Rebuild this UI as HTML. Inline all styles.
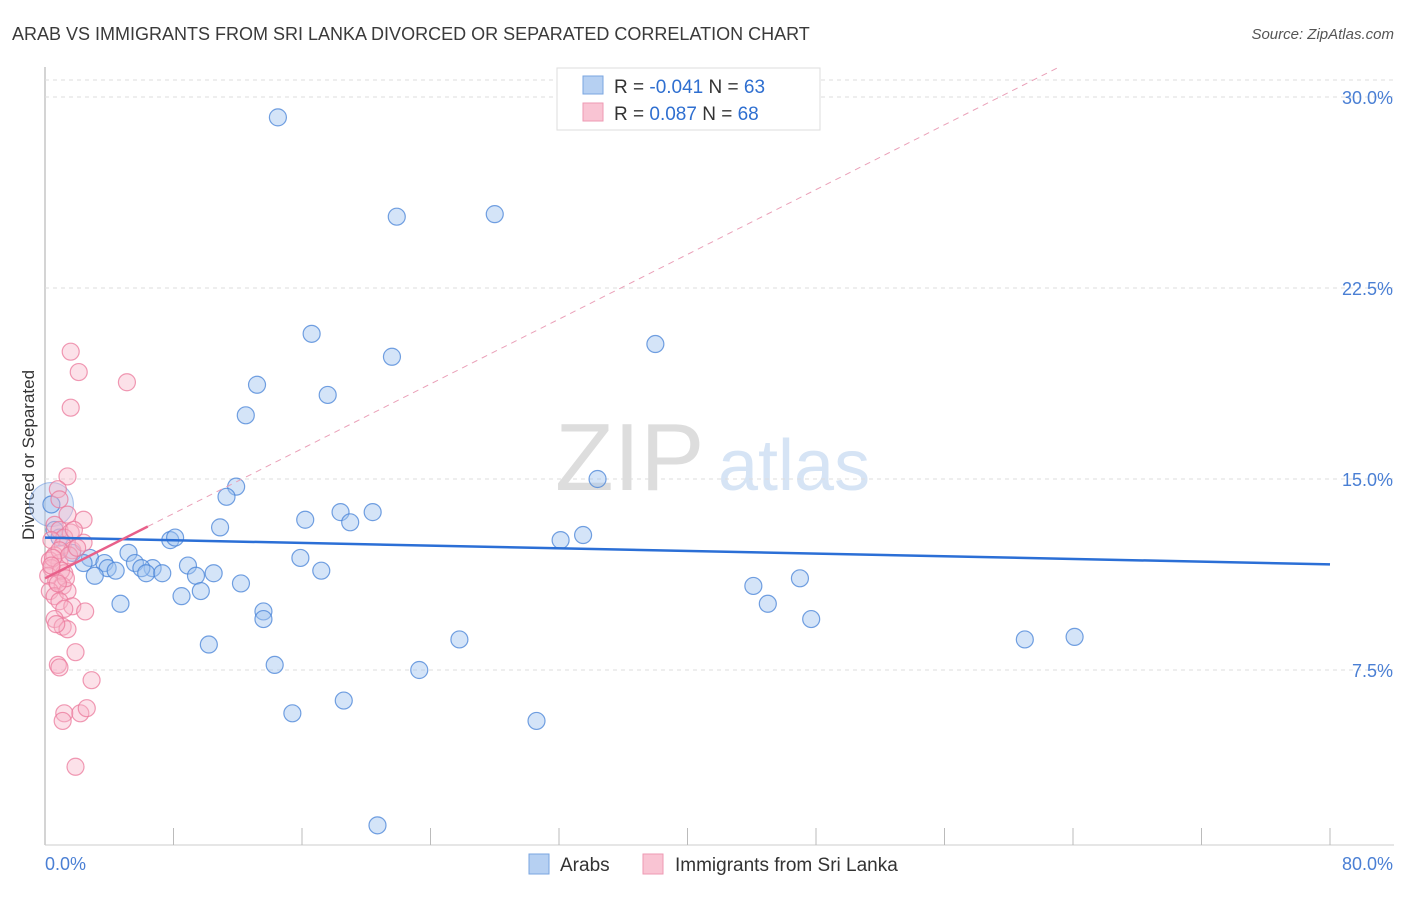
<!DOCTYPE html>
<html><head><meta charset="utf-8"><style>
body{margin:0;background:#fff;font-family:"Liberation Sans",sans-serif;}
svg text{font-family:"Liberation Sans",sans-serif;}
</style></head><body>
<svg id="c" width="1406" height="892">
<text x="12" y="40" font-size="18" fill="#3a3a3a">ARAB VS IMMIGRANTS FROM SRI LANKA DIVORCED OR SEPARATED CORRELATION CHART</text>
<text x="1394" y="39" font-size="15" fill="#555" text-anchor="end" font-style="italic">Source: ZipAtlas.com</text>
<text x="34" y="455" font-size="17" fill="#333" text-anchor="middle" transform="rotate(-90 34 455)">Divorced or Separated</text>
<text x="555" y="490" font-size="96" fill="#ddd" font-family="Liberation Serif">ZIP</text>
<text x="718" y="490" font-size="72" fill="#d6e4f5">atlas</text>
<g id="grid"></g><g id="marks"></g>
<g>
<rect x="557" y="68" width="263" height="62" fill="#fff" stroke="#ddd"/>
<rect x="583" y="76" width="20" height="18" fill="#b6d0f2" stroke="#7aa6e0"/>
<rect x="583" y="103" width="20" height="18" fill="#f9c4d3" stroke="#ee9ab3"/>
<text x="614" y="93" font-size="19" fill="#333">R = <tspan fill="#2f6fd0">-0.041</tspan>   N = <tspan fill="#2f6fd0">63</tspan></text>
<text x="614" y="120" font-size="19" fill="#333">R =  <tspan fill="#2f6fd0"> 0.087</tspan>   N = <tspan fill="#2f6fd0">68</tspan></text>
</g>
<g>
<rect x="529" y="854" width="20" height="20" fill="#b6d0f2" stroke="#7aa6e0"/>
<text x="560" y="871" font-size="19" fill="#333">Arabs</text>
<rect x="643" y="854" width="20" height="20" fill="#f9c4d3" stroke="#ee9ab3"/>
<text x="675" y="871" font-size="19" fill="#333">Immigrants from Sri Lanka</text>
</g>
</svg>
<script>
const yTicks=[7.5,15,22.5,30];
const xTickLabels=["0.0%","80.0%"];
const blueX=[14.5,21.9,28.0,16.6,21.6,38.0,13.2,17.6,12.5,34.4,11.9,11.3,18.4,20.4,16.2,19.0,10.9,33.5,32.1,7.8,8.1,0.4,0.6,0.9,1.7,2.8,5.2,15.9,2.4,3.7,5.6,6.7,8.9,3.9,4.4,6.0,6.3,7.3,9.4,10.5,3.1,17.2,47.0,12.2,44.1,9.7,8.5,4.7,13.6,45.0,13.6,47.7,10.2,25.8,61.0,64.1,14.3,23.3,15.4,18.6,30.6,20.7];
const blueY=[29.2,25.3,25.4,20.7,19.8,20.3,18.7,18.3,17.5,15.0,14.7,14.3,13.7,13.7,13.4,13.3,13.1,12.8,12.6,12.6,12.7,14.0,13.0,12.7,12.1,11.9,12.1,11.9,11.7,11.7,11.7,11.5,11.6,11.5,11.4,11.5,11.3,11.3,11.2,11.3,11.2,11.4,11.1,10.9,10.8,10.6,10.4,10.1,9.8,10.1,9.5,9.5,8.5,8.7,8.7,8.8,7.7,7.5,5.8,6.3,5.5,1.4];
const pinkX=[1.6,2.1,5.1,1.6,1.4,0.8,0.9,2.4,1.4,0.6,0.9,1.6,1.2,0.4,1.1,1.7,0.6,0.3,0.9,0.4,1.2,0.2,0.7,1.1,0.3,0.6,1.4,0.9,1.7,2.5,1.2,0.6,1.1,1.4,0.7,1.9,0.8,0.9,2.9,1.2,2.2,2.6,1.1,1.9,2.4,0.9,1.5,0.5,1.0,1.3,0.8,0.4,2.0,1.8];
const pinkY=[20.0,19.2,18.8,17.8,15.1,14.6,14.2,13.4,13.6,13.2,13.0,12.9,12.7,12.6,12.4,12.2,12.0,11.8,11.7,11.5,11.3,11.2,11.0,10.8,10.6,10.4,10.6,10.2,10.0,9.8,9.9,9.5,9.2,9.1,9.3,8.2,7.7,7.6,7.1,5.8,5.8,6.0,5.5,3.7,12.5,12.2,12.0,11.9,11.4,11.1,10.9,11.6,12.3,13.0];
const blueTrend=[12.7,11.65];
const pinkTrend=[11.1,0.318];
const X=v=>45+v/80*1285, Y=v=>861-v/7.5*191;
const ns="http://www.w3.org/2000/svg";
function mk(t,a,p){const e=document.createElementNS(ns,t);for(const k in a)e.setAttribute(k,a[k]);p.appendChild(e);return e;}
const g=document.getElementById('grid'), m=document.getElementById('marks');
const ax=mk('line',{x1:45,y1:67,x2:45,y2:845,stroke:'#aaa'},g);


const xa=mk('line',{x1:45,y1:845,x2:1394,y2:845,stroke:'#ccc'},g);


mk('line',{x1:45,y1:80,x2:1394,y2:80,stroke:'#ddd','stroke-dasharray':'4 4'},g);
yTicks.forEach(t=>{
 const l=mk('line',{x1:45,y1:Y(t),x2:1394,y2:Y(t),stroke:'#ddd','stroke-dasharray':'4 4'},g);
 
 
 const tx=mk('text',{x:1393,y:Y(t)+7,'font-size':18,fill:'#4a7fd4','text-anchor':'end'},g);
 
 
 tx.textContent=t.toFixed(1)+'%';
});
for(let i=1;i<=10;i++){const l=mk('line',{x1:X(i*8),y1:828,x2:X(i*8),y2:845,stroke:'#bbb'},g);
 
 }
const t0=mk('text',{x:45,y:870,'font-size':18,fill:'#4a7fd4'},g);


t0.textContent=xTickLabels[0];
const t1=mk('text',{x:1393,y:870,'font-size':18,fill:'#4a7fd4','text-anchor':'end'},g);


t1.textContent=xTickLabels[1];
const big=mk('circle',{cx:X(0.4),cy:Y(14.0),r:22,fill:'rgba(160,190,235,0.35)',stroke:'rgba(90,140,220,0.5)'},m);


blueX.forEach((x,i)=>{const c=mk('circle',{cx:X(x),cy:Y(blueY[i]),r:8.5,fill:'rgba(160,195,240,0.45)',stroke:'rgba(70,130,215,0.75)','stroke-width':1.2},m);
 
 });
pinkX.forEach((x,i)=>{const c=mk('circle',{cx:X(x),cy:Y(pinkY[i]),r:8.5,fill:'rgba(248,180,200,0.4)',stroke:'rgba(235,120,155,0.75)','stroke-width':1.2},m);
 
 });
const bl=mk('line',{x1:X(0),y1:Y(blueTrend[0]),x2:X(80),y2:Y(blueTrend[1]),stroke:'#2b6fd6','stroke-width':2.5},m);


const pd=mk('line',{x1:X(6.4),y1:Y(pinkTrend[0]+pinkTrend[1]*6.4),x2:X(63),y2:Y(pinkTrend[0]+pinkTrend[1]*63),stroke:'#eaa0b8','stroke-width':1,'stroke-dasharray':'6 5'},m);


const ps=mk('line',{x1:X(0),y1:Y(pinkTrend[0]),x2:X(6.4),y2:Y(pinkTrend[0]+pinkTrend[1]*6.4),stroke:'#e8608a','stroke-width':2.5},m);


</script>
</body></html>
